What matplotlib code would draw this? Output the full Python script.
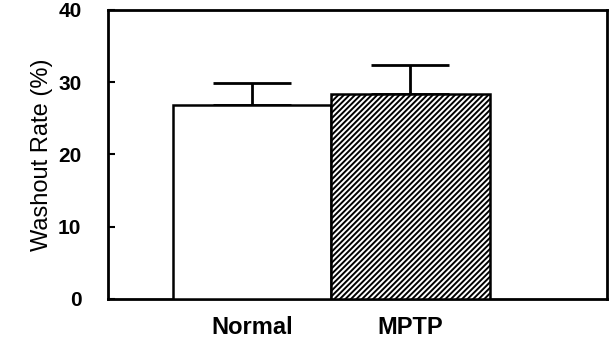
import matplotlib
matplotlib.use("Agg")
import matplotlib.pyplot as plt

# data
groups = ["Normal", "MPTP"]
means = [26.8, 28.3]
sem = [3.1, 4.1]
yticks = [0, 10, 20, 30, 40]

plt.rcParams["font.family"] = ["Liberation Sans", "DejaVu Sans"]
plt.rcParams["hatch.linewidth"] = 1.4

fig = plt.figure(figsize=(6.13, 3.42), dpi=100)
ax = fig.add_axes([0.176, 0.126, 0.814, 0.845])

x = list(range(len(groups)))
bars = ax.bar(x, means, width=1.0, color="white", edgecolor="black", linewidth=1.8, zorder=3)
bars[1].set_hatch("//////")

ax.errorbar(x, means, yerr=[[0] * len(sem), sem], fmt="none", ecolor="black",
            elinewidth=2, capsize=28, capthick=2, zorder=2)

ax.set_xlim(-0.91, 2.24)
ax.set_ylim(0, 40)
ax.set_yticks(yticks)
ax.set_yticklabels([str(t) for t in yticks], fontsize=15, fontweight="bold")
ax.set_xticks(x)
ax.set_xticklabels(groups, fontsize=17, fontweight="bold")
ax.tick_params(axis="y", direction="in", length=5, width=1.5, pad=19)
ax.tick_params(axis="x", length=0, pad=12)
ax.set_ylabel("Washout Rate (%)", fontsize=17, labelpad=4)

for s in ax.spines.values():
    s.set_linewidth(2)

fig.savefig("out.png", dpi=100)
